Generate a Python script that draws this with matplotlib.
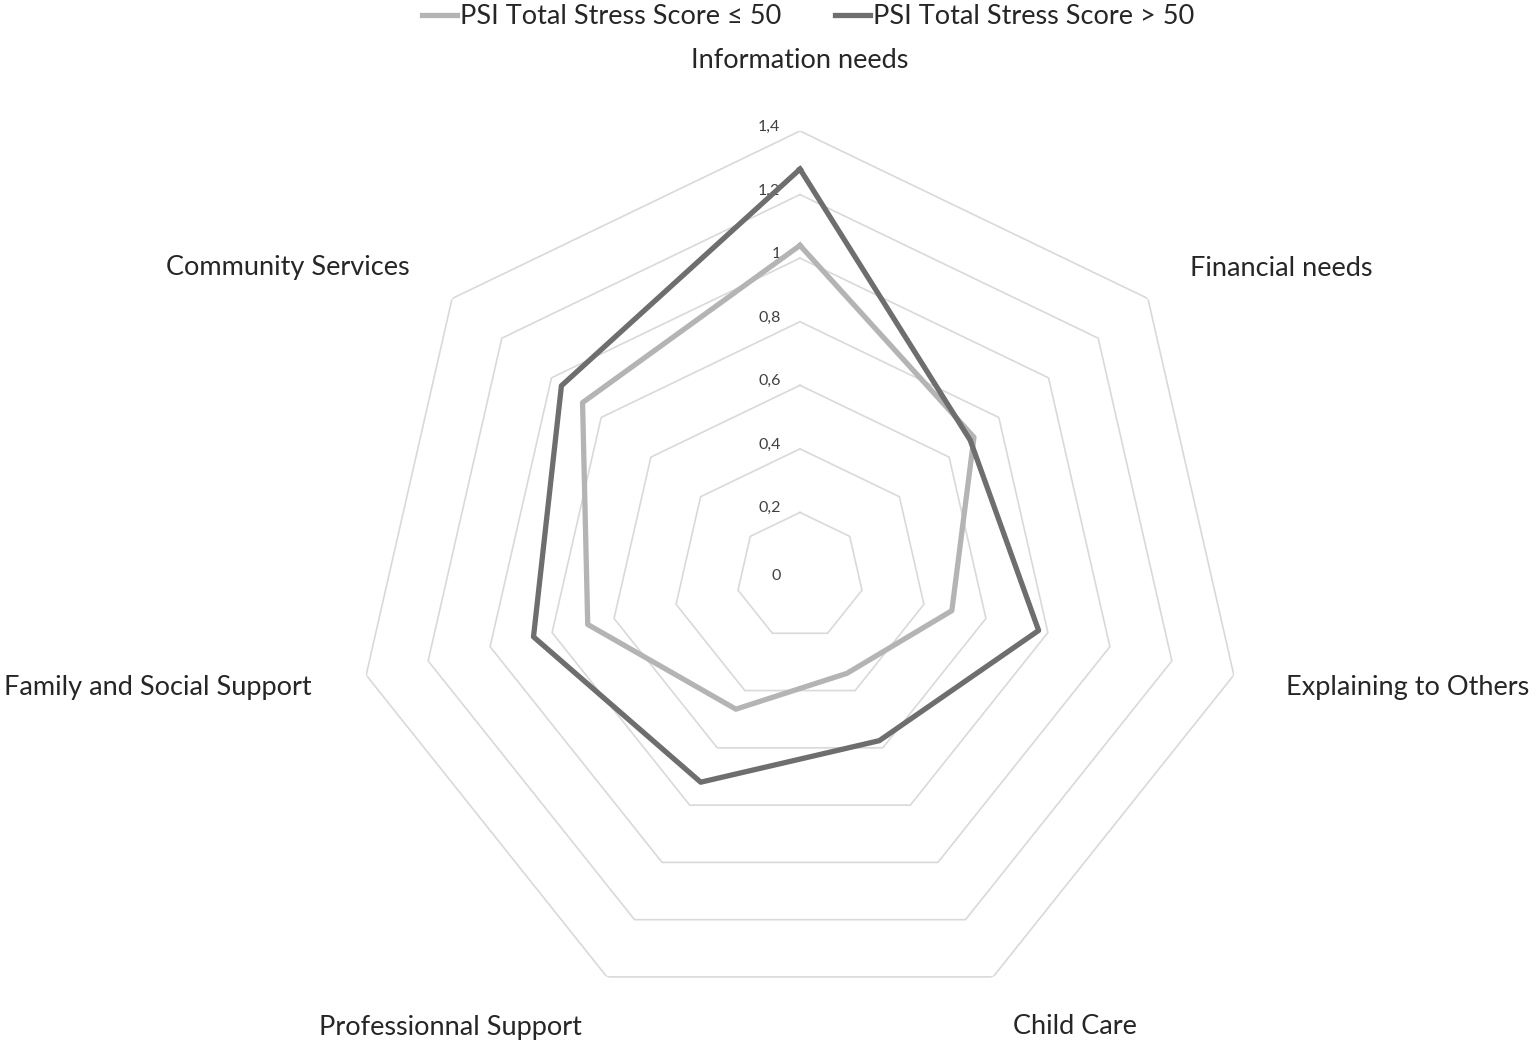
import numpy as np
import matplotlib
matplotlib.use("Agg")
import matplotlib.pyplot as plt

# categories, clockwise from the top
categories = ["Information needs", "Financial needs", "Explaining to Others",
              "Child Care", "Professionnal Support", "Family and Social Support",
              "Community Services"]
low_stress = [1.04, 0.70, 0.49, 0.34, 0.465, 0.685, 0.875]
high_stress = [1.28, 0.685, 0.77, 0.575, 0.72, 0.86, 0.96]
series_names = ["PSI Total Stress Score \u2264 50", "PSI Total Stress Score > 50"]
ring_values = [0.2, 0.4, 0.6, 0.8, 1.0, 1.2, 1.4]
ring_labels = ["0", "0,2", "0,4", "0,6", "0,8", "1", "1,2", "1,4"]

plt.rcParams['font.family'] = ['Lato', 'DejaVu Sans']

W, H = 1536, 1048
fig = plt.figure(figsize=(W / 100, H / 100), dpi=100)

# center (800, 576) px, radius of outer ring 445 px
cx, cy, R = 800, 576, 445
ax = fig.add_axes([(cx - R) / W, (H - cy - R) / H, 2 * R / W, 2 * R / H],
                  projection='polar')
ax.set_theta_offset(np.pi / 2)
ax.set_theta_direction(-1)
ax.set_ylim(0, 1.4)
ax.grid(False)
ax.spines['polar'].set_visible(False)
ax.set_xticks([])
ax.set_yticks([])
ax.patch.set_alpha(0)

n = len(categories)
angles = np.linspace(0, 2 * np.pi, n, endpoint=False)
closed = np.append(angles, angles[0])

# heptagon grid
for r in ring_values:
    ax.plot(closed, [r] * (n + 1), color='#d9d9d9', lw=1.2, zorder=1)

# ring labels along the top axis
for r, lab in zip([0] + ring_values, ring_labels):
    ax.annotate(lab, xy=(0, r), xytext=(-14, 3 if r > 0 else 0),
                textcoords='offset points', ha='right', va='center',
                fontsize=11.5, color='#404040')

c_low, c_high = '#b4b4b4', '#6e6e6e'
ax.plot(closed, low_stress + low_stress[:1], color=c_low, lw=3.8, zorder=3,
        label=series_names[0])
ax.plot(closed, high_stress + high_stress[:1], color=c_high, lw=3.8, zorder=4,
        label=series_names[1])

# category labels (pixel centers in the figure)
label_px = [(800, 60), (1281, 268), (1408, 688), (1075, 1027),
            (450, 1027), (158, 688), (288, 268)]
for lab, (x, y) in zip(categories, label_px):
    fig.text(x / W, 1 - y / H, lab, ha='center', va='center',
             fontsize=19.5, color='#262626')

fig.legend(loc='center', bbox_to_anchor=(808 / W, 1 - 17 / H), ncol=2,
           frameon=False, fontsize=19.5, handlelength=1.3, handletextpad=0.1,
           columnspacing=2.0, labelcolor='#262626')

fig.savefig("out.png", dpi=100)
